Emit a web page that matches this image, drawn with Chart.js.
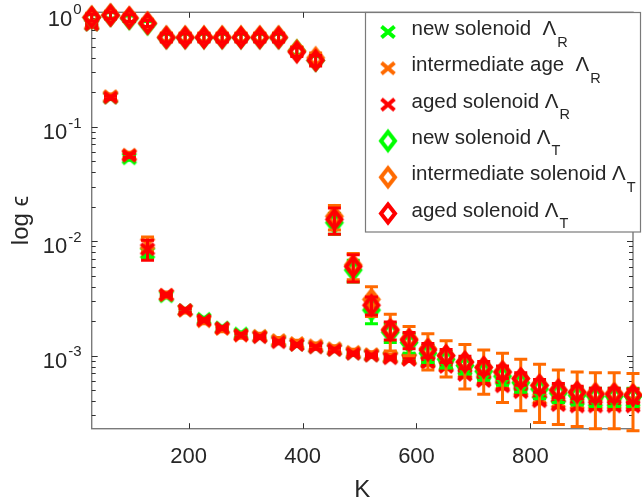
<!DOCTYPE html>
<html>
<head>
<meta charset="utf-8">
<script src="https://cdn.jsdelivr.net/npm/chart.js@4.4.0/dist/chart.umd.min.js"></script>
<style>
  html, body { margin: 0; padding: 0; background: #ffffff; }
  canvas { display: block; }
</style>
</head>
<body>
<canvas id="myChart" width="642" height="503"></canvas>
<script>
// K values (x)
var kValues = [30, 63, 96, 128, 161, 194, 227, 259, 292, 325, 358, 390, 423, 456, 489,
               521, 554, 587, 620, 652, 685, 718, 751, 783, 816, 849, 882, 914, 947, 980];

// Lambda_R (crosses)
var newR  = [0.78, 0.18, 0.053, 0.0079, 0.0033, 0.0025, 0.0021, 0.00176, 0.00156, 0.00147, 0.00134, 0.00125, 0.00119, 0.00113, 0.00105,
             0.00101, 0.00097, 0.00094, 0.0009, 0.00083, 0.00076, 0.00069, 0.00062, 0.00055, 0.00047, 0.00043, 0.00041, 0.0004, 0.0004, 0.0004];
var intR  = [0.8, 0.185, 0.057, 0.0095, 0.0034, 0.00248, 0.002, 0.00171, 0.0015, 0.00149, 0.00137, 0.00129, 0.00123, 0.00116, 0.00108,
             0.00103, 0.00098, 0.00094, 0.00088, 0.00081, 0.00071, 0.00062, 0.00056, 0.0005, 0.00042, 0.00039, 0.00038, 0.00038, 0.00038, 0.00038];
var agedR = [0.78, 0.18, 0.056, 0.0085, 0.0034, 0.0025, 0.00204, 0.00174, 0.00151, 0.00145, 0.00131, 0.00124, 0.00118, 0.00112, 0.00104,
             0.001, 0.00095, 0.00092, 0.00087, 0.0008, 0.00068, 0.0006, 0.00054, 0.00048, 0.0004, 0.00037, 0.00036, 0.00036, 0.00036, 0.00036];
var newRErr  = [0.02, 0.006, 0.002, 0.0007, 0.0001, 0.00008, 0.00006, 0.00005, 0.00005, 0.00004, 0.00004, 0.00004, 0.00004, 0.00004, 0.00003,
                0.00003, 0.00003, 0.00003, 0.00003, 0.00003, 0.00003, 0.00003, 0.00003, 0.00002, 0.00002, 0.00002, 0.00002, 0.00002, 0.00002, 0.00002];
var intRErr  = [0.03, 0.008, 0.003, 0.0014, 0.0002, 0.00012, 0.0001, 0.00009, 0.00008, 0.00008, 0.00007, 0.00007, 0.00006, 0.00006, 0.00006,
                0.00005, 0.00005, 0.00005, 0.00005, 0.00005, 0.00004, 0.00004, 0.00004, 0.00003, 0.00003, 0.00003, 0.00003, 0.00003, 0.00003, 0.00003];
var agedRErr = [0.02, 0.006, 0.002, 0.0017, 0.0001, 0.00008, 0.00006, 0.00005, 0.00005, 0.00004, 0.00004, 0.00004, 0.00004, 0.00004, 0.00003,
                0.00003, 0.00003, 0.00003, 0.00003, 0.00003, 0.00003, 0.00003, 0.00003, 0.00002, 0.00002, 0.00002, 0.00002, 0.00002, 0.00002, 0.00002];

// Lambda_T (diamonds)
var newT  = [0.9, 0.94, 0.88, 0.79, 0.6, 0.6, 0.6, 0.6, 0.6, 0.6, 0.6, 0.46, 0.38, 0.0145, 0.0056,
             0.0025, 0.0016, 0.0013, 0.00105, 0.00093, 0.00082, 0.00073, 0.00066, 0.00058, 0.00051, 0.00047, 0.00045, 0.00044, 0.00044, 0.00044];
var intT  = [0.91, 0.95, 0.9, 0.81, 0.61, 0.61, 0.61, 0.61, 0.61, 0.61, 0.61, 0.46, 0.4, 0.0165, 0.0062,
             0.0031, 0.0017, 0.0014, 0.00115, 0.001, 0.00088, 0.00079, 0.00072, 0.00063, 0.00055, 0.0005, 0.00048, 0.00047, 0.00047, 0.00046];
var agedT = [0.9, 0.94, 0.89, 0.8, 0.6, 0.6, 0.6, 0.6, 0.6, 0.6, 0.6, 0.45, 0.38, 0.0155, 0.006,
             0.00276, 0.00167, 0.00137, 0.00112, 0.001, 0.00088, 0.00079, 0.00072, 0.00063, 0.00055, 0.0005, 0.00048, 0.00046, 0.00046, 0.00045];
var newTErr  = [0.05, 0.05, 0.05, 0.04, 0.04, 0.04, 0.04, 0.04, 0.04, 0.04, 0.04, 0.03, 0.03, 0.003, 0.0012,
                0.0006, 0.0003, 0.00025, 0.00018, 0.00015, 0.00013, 0.00012, 0.00011, 0.0001, 0.00009, 0.00008, 0.00008, 0.00008, 0.00008, 0.00008];
var intTErr  = [0.07, 0.07, 0.07, 0.06, 0.05, 0.05, 0.05, 0.05, 0.05, 0.05, 0.05, 0.04, 0.04, 0.004, 0.0016,
                0.0009, 0.0006, 0.0004, 0.0004, 0.00035, 0.00037, 0.00033, 0.00033, 0.0003, 0.00029, 0.00025, 0.00024, 0.00024, 0.00024, 0.00024];
var agedTErr = [0.06, 0.06, 0.06, 0.05, 0.05, 0.05, 0.05, 0.05, 0.05, 0.05, 0.05, 0.04, 0.04, 0.004, 0.0016,
                0.0005, 0.0003, 0.00022, 0.00016, 0.00013, 0.00011, 0.0001, 0.00009, 0.00008, 0.00007, 0.00007, 0.00006, 0.00006, 0.00006, 0.00006];

// legend texts
var legendNames = ['new solenoid  ', 'intermediate age  ', 'aged solenoid ', 'new solenoid ', 'intermediate solenoid ', 'aged solenoid '];
var legendSubs  = ['R', 'R', 'R', 'T', 'T', 'T'];

// ticks
var xTicks = [200, 400, 600, 800];
var yTickExp = [0, -1, -2, -3];

var GREEN = '#00ff00', ORANGE = '#ff6a00', RED = '#ff0000';
var FONT = '"Liberation Sans", Arial, Helvetica, sans-serif';
var TEXT = '#262626';

function makeCross(color) {
  var c = document.createElement('canvas');
  c.width = 18; c.height = 16;
  var g = c.getContext('2d');
  g.strokeStyle = color; g.lineWidth = 4;
  g.beginPath();
  g.moveTo(2.5, 2.5); g.lineTo(15.5, 13.5);
  g.moveTo(15.5, 2.5); g.lineTo(2.5, 13.5);
  g.stroke();
  return c;
}
function makeDiamond(color) {
  var c = document.createElement('canvas');
  c.width = 22; c.height = 27;
  var g = c.getContext('2d');
  g.strokeStyle = color; g.lineWidth = 4;
  g.beginPath();
  g.moveTo(11, 4.5); g.lineTo(18, 13.5); g.lineTo(11, 22.5); g.lineTo(4, 13.5);
  g.closePath();
  g.stroke();
  return c;
}

function toPoints(ys) {
  return ys.map(function (v, i) { return { x: kValues[i], y: v }; });
}

function series(idx, values, errs, color, marker) {
  var img = marker === 'x' ? makeCross(color) : makeDiamond(color);
  return {
    label: legendNames[idx] + '\u039B' + legendSubs[idx],
    data: toPoints(values),
    errors: errs,
    errColor: color,
    marker: img,
    pointStyle: img,
    pointRadius: 8,
    showLine: false,
    borderColor: color,
    backgroundColor: color,
    order: 5 - idx,   // later series drawn on top
    clip: false
  };
}

// error bars drawn just before each dataset's markers
var errorBarPlugin = {
  id: 'errorBars',
  beforeDatasetDraw: function (chart, args) {
    var ds = chart.data.datasets[args.index];
    var xs = chart.scales.x, ys = chart.scales.y, ctx = chart.ctx;
    ctx.save();
    ctx.strokeStyle = ds.errColor;
    ctx.lineWidth = 3;
    ds.errors.forEach(function (e, i) {
      var p = ds.data[i];
      var px = xs.getPixelForValue(p.x);
      var top = ys.getPixelForValue(p.y + e);
      var lo = p.y - e > 1e-6 ? p.y - e : 1e-6;
      var bot = Math.min(ys.getPixelForValue(lo), chart.chartArea.bottom + 2);
      ctx.beginPath();
      ctx.moveTo(px, top); ctx.lineTo(px, bot);
      ctx.moveTo(px - 6.5, top); ctx.lineTo(px + 6.5, top);
      ctx.moveTo(px - 6.5, bot); ctx.lineTo(px + 6.5, bot);
      ctx.stroke();
    });
    ctx.restore();
  }
};

// axes box, ticks and labels
var axesPlugin = {
  id: 'axesBox',
  beforeDatasetsDraw: function (chart) {
    var a = chart.chartArea, ctx = chart.ctx;
    var xs = chart.scales.x, ys = chart.scales.y;
    ctx.save();
    ctx.strokeStyle = '#7a7a7a';
    ctx.lineWidth = 1.4;
    ctx.strokeRect(a.left, a.top, a.right - a.left, a.bottom - a.top);

    ctx.strokeStyle = '#303030';
    ctx.lineWidth = 1;
    ctx.beginPath();
    xTicks.forEach(function (t) {
      var x = Math.round(xs.getPixelForValue(t)) + 0.5;
      ctx.moveTo(x, a.bottom); ctx.lineTo(x, a.bottom - 5.5);
      ctx.moveTo(x, a.top); ctx.lineTo(x, a.top + 5.5);
    });
    for (var e = -4; e <= 0; e++) {
      for (var m = 1; m <= 9; m++) {
        var v = m * Math.pow(10, e);
        if (v < ys.min || v > ys.max * 1.0001) continue;
        var y = Math.round(ys.getPixelForValue(v)) + 0.5;
        var len = m === 1 ? 6 : 4;
        ctx.moveTo(a.left, y); ctx.lineTo(a.left + len, y);
        ctx.moveTo(a.right, y); ctx.lineTo(a.right - len, y);
      }
    }
    ctx.stroke();

    ctx.fillStyle = TEXT;
    ctx.font = '22px ' + FONT;
    ctx.textAlign = 'center';
    ctx.textBaseline = 'alphabetic';
    xTicks.forEach(function (t) {
      ctx.fillText(String(t), xs.getPixelForValue(t), 462.5);
    });

    yTickExp.forEach(function (ex) {
      var y = ys.getPixelForValue(Math.pow(10, ex));
      var sup = ex === 0 ? '0' : '-' + Math.abs(ex);
      ctx.font = '15px ' + FONT;
      var sw = ctx.measureText(sup).width;
      ctx.font = '22px ' + FONT;
      var bw = ctx.measureText('10').width;
      var right = 81.5;
      var base = ex === 0 ? y + 13.5 : y + 12.3;
      ctx.textAlign = 'left';
      ctx.fillText('10', right - sw - bw - 1, base);
      ctx.font = '15px ' + FONT;
      ctx.fillText(sup, right - sw, base - 11.5);
    });

    ctx.font = '24px ' + FONT;
    ctx.textAlign = 'center';
    ctx.fillText('K', (a.left + a.right) / 2, 496.5);

    ctx.translate(28, (a.top + a.bottom) / 2);
    ctx.rotate(-Math.PI / 2);
    ctx.fillText('log \u03F5', 0, 0);
    ctx.restore();
  }
};

// legend box in the upper right
var legendPlugin = {
  id: 'boxLegend',
  afterDraw: function (chart) {
    var ctx = chart.ctx;
    var bx = 365.5, by = 12.5, bw = 275, bh = 219.5;
    ctx.save();
    ctx.fillStyle = '#ffffff';
    ctx.fillRect(bx, by, bw, bh);
    ctx.strokeStyle = '#7a7a7a';
    ctx.lineWidth = 1.2;
    ctx.strokeRect(bx, by, bw, bh);
    chart.data.datasets.forEach(function (ds, i) {
      var base = 35 + i * 36.3;
      var img = ds.marker;
      ctx.drawImage(img, 388 - img.width / 2, base - 3 - img.height / 2);
      ctx.fillStyle = TEXT;
      ctx.font = '20.5px ' + FONT;
      ctx.textAlign = 'left';
      var main = legendNames[i] + '\u039B';
      ctx.fillText(main, 411.5, base);
      var w = ctx.measureText(main).width;
      ctx.font = '14.5px ' + FONT;
      ctx.fillText(legendSubs[i], 411.5 + w + 1, base + 11.5);
    });
    ctx.restore();
  }
};

var datasets = [
  series(0, newR, newRErr, GREEN, 'x'),
  series(1, intR, intRErr, ORANGE, 'x'),
  series(2, agedR, agedRErr, RED, 'x'),
  series(3, newT, newTErr, GREEN, 'd'),
  series(4, intT, intTErr, ORANGE, 'd'),
  series(5, agedT, agedTErr, RED, 'd')
];

const myChart = new Chart(document.getElementById('myChart'), {
  type: 'scatter',
  data: { datasets: datasets },
  options: {
    responsive: false,
    animation: false,
    devicePixelRatio: 1,
    layout: { padding: { left: 91.7, right: 5.3, top: 12.3, bottom: 74.3 } },
    plugins: {
      legend: { display: false },
      tooltip: { enabled: false }
    },
    scales: {
      x: { type: 'linear', min: 30, max: 980, display: false },
      y: { type: 'logarithmic', min: 2.3e-4, max: 1, display: false }
    }
  },
  plugins: [errorBarPlugin, axesPlugin, legendPlugin]
});
</script>
</body>
</html>
